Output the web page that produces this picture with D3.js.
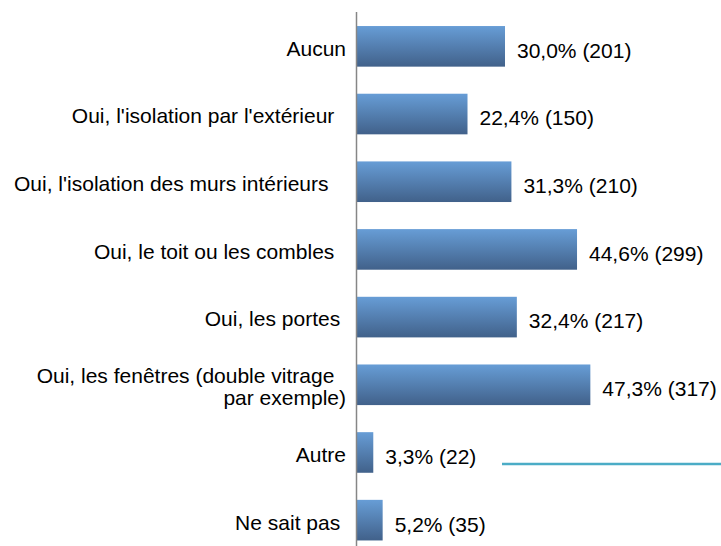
<!DOCTYPE html>
<html>
<head>
<meta charset="utf-8">
<script src="https://cdn.jsdelivr.net/npm/d3@7"></script>
<style>
  html, body { margin: 0; padding: 0; background: #ffffff; }
  svg { display: block; }
  text { font-family: "Liberation Sans", Arial, sans-serif; white-space: pre; }
</style>
</head>
<body>
<svg id="chart" width="721" height="546"></svg>
<script>
// ---- data ----
const categories = [
  ["Aucun"],
  ["Oui, l'isolation par l'extérieur  "],
  ["Oui, l'isolation des murs intérieurs   "],
  ["Oui, le toit ou les combles  "],
  ["Oui, les portes "],
  ["Oui, les fenêtres (double vitrage  ", "par exemple)"],
  ["Autre"],
  ["Ne sait pas "]
];
const percents = [30.0, 22.4, 31.3, 44.6, 32.4, 47.3, 3.3, 5.2];
const counts = [201, 150, 210, 299, 217, 317, 22, 35];

// ---- layout ----
const W = 721, H = 546;
const x0 = 357;
const FS = 21;
const svg = d3.select("#chart");

const keys = categories.map((c, i) => i);
const x = d3.scaleLinear().domain([0, 30]).range([x0, x0 + 148]);
const y = d3.scaleBand().domain(keys).range([12.5, 554]).paddingInner(0.4).paddingOuter(0.2);

const defs = svg.append("defs");
const grad = defs.append("linearGradient").attr("id", "barGrad")
  .attr("x1", 0).attr("y1", 0).attr("x2", 0).attr("y2", 1);
grad.append("stop").attr("offset", "0%").attr("stop-color", "#679dd6");
grad.append("stop").attr("offset", "100%").attr("stop-color", "#41618a");

// bars
svg.append("g").selectAll("rect").data(keys).join("rect")
  .attr("x", x(0))
  .attr("y", d => y(d))
  .attr("width", d => x(percents[d]) - x(0))
  .attr("height", y.bandwidth())
  .attr("fill", "url(#barGrad)");

// axis line
svg.append("line")
  .attr("x1", x0 - 0.5).attr("x2", x0 - 0.5)
  .attr("y1", 12).attr("y2", H)
  .attr("stroke", "#868686").attr("stroke-width", 1.5);

const fmt = v => v.toFixed(1).replace(".", ",");

// value labels
svg.append("g").selectAll("text").data(keys).join("text")
  .attr("x", d => x(percents[d]) + 12)
  .attr("y", d => y(d) + y.bandwidth() / 2 + 4)
  .attr("dy", "0.35em")
  .attr("font-size", FS)
  .attr("fill", "#000")
  .text(d => `${fmt(percents[d])}% (${counts[d]})`);

// category labels
const lab = svg.append("g").selectAll("text").data(keys).join("text")
  .attr("text-anchor", "end")
  .attr("font-size", FS)
  .attr("fill", "#000")
  .attr("y", d => y(d) + y.bandwidth() / 2 + 2);
lab.each(function(d) {
  const lines = categories[d];
  const lh = 22;
  const sel = d3.select(this);
  lines.forEach((t, i) => {
    sel.append("tspan")
      .attr("x", 346)
      .attr("dy", i === 0 ? (0.35 * FS - (lines.length - 1) * lh / 2) + "px" : lh + "px")
      .text(t);
  });
});

// decorative teal line
svg.append("line")
  .attr("x1", 502).attr("x2", W)
  .attr("y1", 464).attr("y2", 464)
  .attr("stroke", "#4bacc6").attr("stroke-width", 2.5);
</script>
</body>
</html>
